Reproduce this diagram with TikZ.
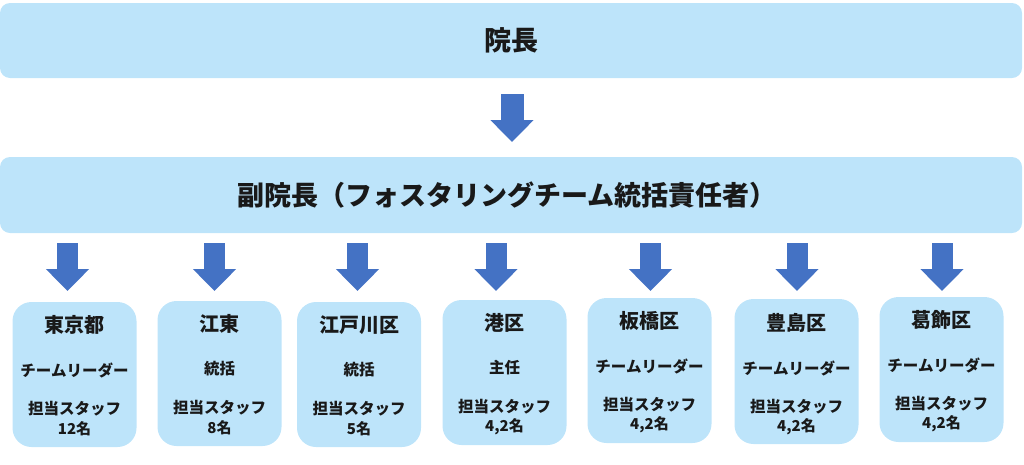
\documentclass[tikz,border=0pt]{standalone}
\usepackage{fontspec}
\setmainfont{Noto Sans CJK JP}
\usetikzlibrary{arrows.meta}
\usetikzlibrary{positioning}
\definecolor{boxblue}{RGB}{189,228,250}
\definecolor{arrowblue}{RGB}{68,114,196}

\begin{document}
\begin{tikzpicture}[x=1pt,y=-1pt,
  bar/.style={fill=boxblue, rounded corners=10pt, minimum width=1022pt, inner sep=0pt, text=black!90, font=\bfseries\fontsize{27}{30}\selectfont},
  ward/.style={fill=boxblue, rounded corners=19pt, minimum width=124pt, minimum height=145pt, inner sep=0pt},
  wardname/.style={text=black!90, font=\bfseries\fontsize{20}{24}\selectfont},
  wardtext/.style={text=black!90, font=\bfseries\fontsize{15.5}{18}\selectfont},
  wardnum/.style={text=black!90, font=\bfseries\fontsize{15}{18}\selectfont},
  blockarrow/.style={arrowblue, line width=21pt, -{Triangle[width=42pt,length=22pt]}}]
\useasboundingbox (0,0) rectangle (1024,464);

% top rows
\node[bar, minimum height=75pt] (head) at (511,40.5) {院長};
\node[bar, minimum height=76pt] (vice) at (511,195) {副院長（フォスタリングチーム統括責任者）\hspace*{8pt}};

\coordinate (m1) at (512,94);
\coordinate (m2) at (512,142);
\draw[blockarrow, line width=23pt] (m1) -- (m2);

% wards
\node[ward] (w1) at (74.5,374.5) {};
\node[ward] (w2) at (219.5,373.5) {};
\node[ward] (w3) at (359,374.5) {};
\node[ward] (w4) at (504.5,372.5) {};
\node[ward] (w5) at (649.5,370.5) {};
\node[ward] (w6) at (796.5,371.5) {};
\node[ward] (w7) at (941.5,369.5) {};

% arrows to wards
\coordinate (a1) at (67.5,243);  \coordinate (b1) at (67.5,291);
\coordinate (a2) at (214.5,243); \coordinate (b2) at (214.5,291);
\coordinate (a3) at (357.5,243); \coordinate (b3) at (357.5,291);
\coordinate (a4) at (496,243);   \coordinate (b4) at (496,291);
\coordinate (a5) at (650.5,243); \coordinate (b5) at (650.5,291);
\coordinate (a6) at (797,243);   \coordinate (b6) at (797,291);
\coordinate (a7) at (942,243);   \coordinate (b7) at (942,291);
\draw[blockarrow] (a1) -- (b1);
\draw[blockarrow] (a2) -- (b2);
\draw[blockarrow] (a3) -- (b3);
\draw[blockarrow] (a4) -- (b4);
\draw[blockarrow] (a5) -- (b5);
\draw[blockarrow] (a6) -- (b6);
\draw[blockarrow] (a7) -- (b7);

\node[wardname] (t1) at (74.5,325) {東京都};
\node[wardtext] (r1) at (74.5,370) {チームリーダー};
\node[wardtext] (s1) at (74.5,409) {担当スタッフ};
\node[wardnum] (n1) at (74.5,429) {12名};

\node[wardname] (t2) at (219.5,324) {江東};
\node[wardtext] (r2) at (219.5,369) {統括};
\node[wardtext] (s2) at (219.5,408) {担当スタッフ};
\node[wardnum] (n2) at (219.5,428) {8名};

\node[wardname] (t3) at (359,325) {江戸川区};
\node[wardtext] (r3) at (359,370) {統括};
\node[wardtext] (s3) at (359,409) {担当スタッフ};
\node[wardnum] (n3) at (359,429) {5名};

\node[wardname] (t4) at (504.5,323) {港区};
\node[wardtext] (r4) at (504.5,368) {主任};
\node[wardtext] (s4) at (504.5,407) {担当スタッフ};
\node[wardnum] (n4) at (504.5,427) {4,2名};

\node[wardname] (t5) at (649.5,321) {板橋区};
\node[wardtext] (r5) at (649.5,366) {チームリーダー};
\node[wardtext] (s5) at (649.5,405) {担当スタッフ};
\node[wardnum] (n5) at (649.5,425) {4,2名};

\node[wardname] (t6) at (796.5,323) {豊島区};
\node[wardtext] (r6) at (796.5,368) {チームリーダー};
\node[wardtext] (s6) at (796.5,407) {担当スタッフ};
\node[wardnum] (n6) at (796.5,427) {4,2名};

\node[wardname] (t7) at (941.5,320) {葛飾区};
\node[wardtext] (r7) at (941.5,365) {チームリーダー};
\node[wardtext] (s7) at (941.5,404) {担当スタッフ};
\node[wardnum] (n7) at (941.5,424) {4,2名};
\end{tikzpicture}
\end{document}
